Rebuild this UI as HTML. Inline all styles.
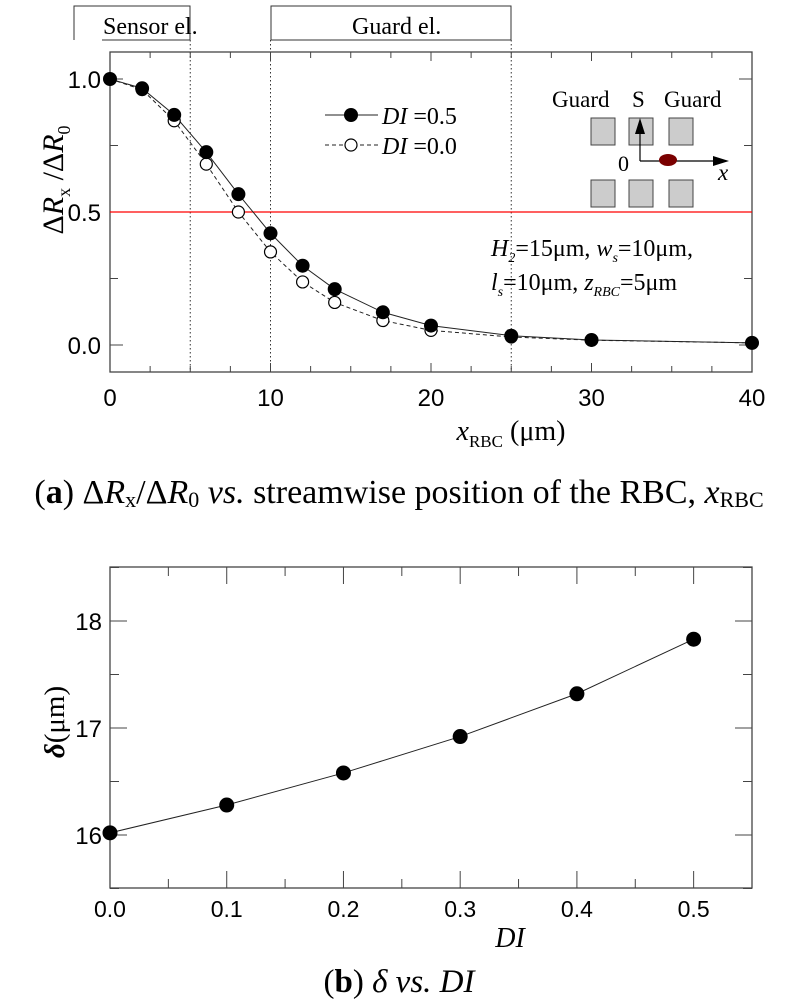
<!DOCTYPE html>
<html><head><meta charset="utf-8"><style>
html,body{margin:0;padding:0;background:#fff;}
svg{display:block;}
.t{font-family:"Liberation Serif",serif;}
.s{font-family:"Liberation Sans",sans-serif;}
</style></head><body>
<svg id="svg" width="798" height="1000" viewBox="0 0 798 1000" xmlns="http://www.w3.org/2000/svg">
<g id="top"></g>
<g id="bot"></g>
</svg>
<script>
// ---- chart (a) data ----
const xA = [0,2,4,6,8,10,12,14,17,20,25,30,40];
const yA05 = [1.0,0.965,0.865,0.725,0.567,0.42,0.298,0.21,0.123,0.073,0.035,0.019,0.008];
const yA00 = [1.0,0.96,0.843,0.68,0.5,0.35,0.237,0.16,0.092,0.055,0.03,0.018,0.008];
const xTicksA = [0,10,20,30,40];
const yTicksA = [0.0,0.5,1.0];
const yTickLabelsA = ["0.0","0.5","1.0"];
const dividers = [5,10,25];
// ---- chart (b) data ----
const xB = [0.0,0.1,0.2,0.3,0.4,0.5];
const yB = [16.02,16.28,16.58,16.92,17.32,17.83];
const xTicksB = ["0.0","0.1","0.2","0.3","0.4","0.5"];
const yTicksB = [16,17,18];

const NS="http://www.w3.org/2000/svg";
function mk(parent,tag,attrs,text){const e=document.createElementNS(NS,tag);for(const k in attrs)e.setAttribute(k,attrs[k]);if(text!==undefined)e.textContent=text;parent.appendChild(e);return e;}

// ===== chart a =====
const A=document.getElementById('top');
const axL=110,axR=752,axT=52,axB=372;
const sxA=v=>axL+(v-0)/(40-0)*(axR-axL);
const syA=v=>345-(v)*266;
let e;
e=mk(A,'path',{d:'M74,40 V6 H190 V40 M102,40 H190',fill:'none',stroke:'#333','stroke-width':1});


e=mk(A,'text',{x:103,y:34,'font-size':24,class:'t'},'Sensor el.');


e=mk(A,'path',{d:'M271,40 V6 H511 V40 H271',fill:'none',stroke:'#333','stroke-width':1});


e=mk(A,'text',{x:352,y:34,'font-size':24,class:'t'},'Guard el.');


dividers.forEach(d=>{e=mk(A,'line',{x1:sxA(d),x2:sxA(d),y1:40,y2:axB,stroke:'#333','stroke-width':1,'stroke-dasharray':'1.5,2.5'});

});
e=mk(A,'rect',{x:axL,y:axT,width:axR-axL,height:axB-axT,fill:'none',stroke:'#444','stroke-width':1.3});


for(let v=0;v<=40;v+=2.5){const major=(v%10===0);const L=major?9:6;
mk(A,'line',{x1:sxA(v),x2:sxA(v),y1:axB,y2:axB-L,stroke:'#444'});
mk(A,'line',{x1:sxA(v),x2:sxA(v),y1:axT,y2:axT+L,stroke:'#444'});}
xTicksA.forEach(v=>{e=mk(A,'text',{x:sxA(v),y:406,'font-size':24,class:'s','text-anchor':'middle'},String(v));

});
for(let v=0;v<=1.0001;v+=0.25){const major=Math.abs(v*2-Math.round(v*2))<1e-6;const L=major?13:8;
mk(A,'line',{x1:axL,x2:axL+L,y1:syA(v),y2:syA(v),stroke:'#444'});
mk(A,'line',{x1:axR,x2:axR-L,y1:syA(v),y2:syA(v),stroke:'#444'});}
yTicksA.forEach((v,i)=>{e=mk(A,'text',{x:101,y:syA(v)+9,'font-size':24,class:'s','text-anchor':'end'},yTickLabelsA[i]);

});
e=mk(A,'line',{x1:axL,x2:axR,y1:syA(0.5),y2:syA(0.5),stroke:'#f00','stroke-width':1.2});


e=mk(A,'polyline',{points:xA.map((x,i)=>sxA(x)+','+syA(yA00[i])).join(' '),fill:'none',stroke:'#222','stroke-width':1,'stroke-dasharray':'4,3'});


e=mk(A,'polyline',{points:xA.map((x,i)=>sxA(x)+','+syA(yA05[i])).join(' '),fill:'none',stroke:'#222','stroke-width':1});


xA.forEach((x,i)=>{e=mk(A,'circle',{cx:sxA(x),cy:syA(yA00[i]),r:6,fill:'#fff',stroke:'#000','stroke-width':1.2});

});
xA.forEach((x,i)=>{e=mk(A,'circle',{cx:sxA(x),cy:syA(yA05[i]),r:7,fill:'#000'});

});
e=mk(A,'g',{});


mk(e,'line',{x1:325,x2:378,y1:115,y2:115,stroke:'#222'});
mk(e,'circle',{cx:351,cy:115,r:7,fill:'#000'});
mk(e,'text',{x:382,y:124,'font-size':24,class:'t'}).innerHTML='<tspan font-style="italic">DI</tspan> =0.5';
mk(e,'line',{x1:325,x2:378,y1:145,y2:145,stroke:'#222','stroke-dasharray':'4,3'});
mk(e,'circle',{cx:351,cy:145,r:6,fill:'#fff',stroke:'#000','stroke-width':1.2});
mk(e,'text',{x:382,y:154,'font-size':24,class:'t'}).innerHTML='<tspan font-style="italic">DI</tspan> =0.0';
const g=mk(A,'g',{});


mk(g,'text',{x:552,y:107,'font-size':23,class:'t'},'Guard');
mk(g,'text',{x:632,y:107,'font-size':23,class:'t'},'S');
mk(g,'text',{x:664,y:107,'font-size':23,class:'t'},'Guard');
[591,629,669].forEach(x=>{[118,180].forEach(y=>mk(g,'rect',{x:x,y:y,width:24,height:27,fill:'#ccc',stroke:'#444','stroke-width':1}));});
mk(g,'line',{x1:640,y1:161,x2:640,y2:128,stroke:'#000','stroke-width':1.2});
mk(g,'polygon',{points:'640,118 635,134 645,134',fill:'#000'});
mk(g,'line',{x1:640,y1:161,x2:716,y2:161,stroke:'#000','stroke-width':1.2});
mk(g,'polygon',{points:'729,161 713,156 713,166',fill:'#000'});
mk(g,'ellipse',{cx:668,cy:160,rx:9,ry:6,fill:'#7a0000'});
mk(g,'text',{x:618,y:171,'font-size':22,class:'t'},'0');
mk(g,'text',{x:718,y:180,'font-size':23,class:'t','font-style':'italic'},'x');
e=mk(A,'text',{x:491,y:256,'font-size':24,class:'t'});
e.innerHTML='<tspan font-style="italic">H</tspan><tspan font-style="italic" font-size="14" dy="6">2</tspan><tspan dy="-6">=15μm, </tspan><tspan font-style="italic">w</tspan><tspan font-style="italic" font-size="14" dy="6">s</tspan><tspan dy="-6">=10μm,</tspan>';


e=mk(A,'text',{x:491,y:290,'font-size':24,class:'t'});
e.innerHTML='<tspan font-style="italic">l</tspan><tspan font-style="italic" font-size="14" dy="6">s</tspan><tspan dy="-6">=10μm, </tspan><tspan font-style="italic">z</tspan><tspan font-style="italic" font-size="14" dy="6">RBC</tspan><tspan dy="-6">=5μm</tspan>';


e=mk(A,'text',{x:0,y:0,'font-size':30,class:'t','text-anchor':'middle',transform:'translate(63,180) rotate(-90)'});
e.innerHTML='Δ<tspan font-style="italic">R</tspan><tspan font-size="18" dy="7">x</tspan><tspan dy="-7"> /Δ</tspan><tspan font-style="italic">R</tspan><tspan font-size="18" dy="7">0</tspan>';


e=mk(A,'text',{x:511,y:440,'font-size':28,class:'t','text-anchor':'middle'});
e.innerHTML='<tspan font-style="italic">x</tspan><tspan font-size="17" dy="7">RBC</tspan><tspan dy="-7"> (μm)</tspan>';


e=mk(A,'text',{x:399,y:503,'font-size':34,class:'t','text-anchor':'middle'});
e.innerHTML='(<tspan font-weight="bold">a</tspan>) Δ<tspan font-style="italic">R</tspan><tspan font-size="22" dy="4">x</tspan><tspan dy="-4">/Δ</tspan><tspan font-style="italic">R</tspan><tspan font-size="22" dy="4">0</tspan><tspan dy="-4"> </tspan><tspan font-style="italic">vs.</tspan> streamwise position of the RBC, <tspan font-style="italic">x</tspan><tspan font-size="22" dy="4">RBC</tspan>';



// ===== chart b =====
const B=document.getElementById('bot');
const bL=110,bR=752,bT=567,bB=888;
const sxB=v=>bL+v/0.55*(bR-bL);
const syB=v=>835-(v-16)*107;
e=mk(B,'rect',{x:bL,y:bT,width:bR-bL,height:bB-bT,fill:'none',stroke:'#444','stroke-width':1.3});


for(let k=0;k<=11;k++){const v=k*0.05;const L=(k%2===0)?17:9;
mk(B,'line',{x1:sxB(v),x2:sxB(v),y1:bB,y2:bB-L,stroke:'#444'});
mk(B,'line',{x1:sxB(v),x2:sxB(v),y1:bT,y2:bT+L,stroke:'#444'});}
xTicksB.forEach(t=>{e=mk(B,'text',{x:sxB(parseFloat(t)),y:917,'font-size':23,class:'s','text-anchor':'middle'},t);

});
for(let v=15.5;v<=18.5001;v+=0.5){const L=(v%1===0)?17:9;
mk(B,'line',{x1:bL,x2:bL+L,y1:syB(v),y2:syB(v),stroke:'#444'});
mk(B,'line',{x1:bR,x2:bR-L,y1:syB(v),y2:syB(v),stroke:'#444'});}
yTicksB.forEach(v=>{e=mk(B,'text',{x:102,y:syB(v)+9,'font-size':24,class:'s','text-anchor':'end'},String(v));

});
e=mk(B,'polyline',{points:xB.map((x,i)=>sxB(x)+','+syB(yB[i])).join(' '),fill:'none',stroke:'#222','stroke-width':1});


xB.forEach((x,i)=>{e=mk(B,'circle',{cx:sxB(x),cy:syB(yB[i]),r:7.5,fill:'#000'});

});
e=mk(B,'text',{x:0,y:0,'font-size':29,class:'t','text-anchor':'middle',transform:'translate(64,722) rotate(-90)'});
e.innerHTML='<tspan font-style="italic" font-weight="bold">δ</tspan>(μm)';


e=mk(B,'text',{x:510,y:947,'font-size':28,class:'t','text-anchor':'middle','font-style':'italic'},'DI');


e=mk(B,'text',{x:399,y:992,'font-size':33,class:'t','text-anchor':'middle'});
e.innerHTML='(<tspan font-weight="bold">b</tspan>) <tspan font-style="italic">δ vs. DI</tspan>';


</script>
</body></html>
